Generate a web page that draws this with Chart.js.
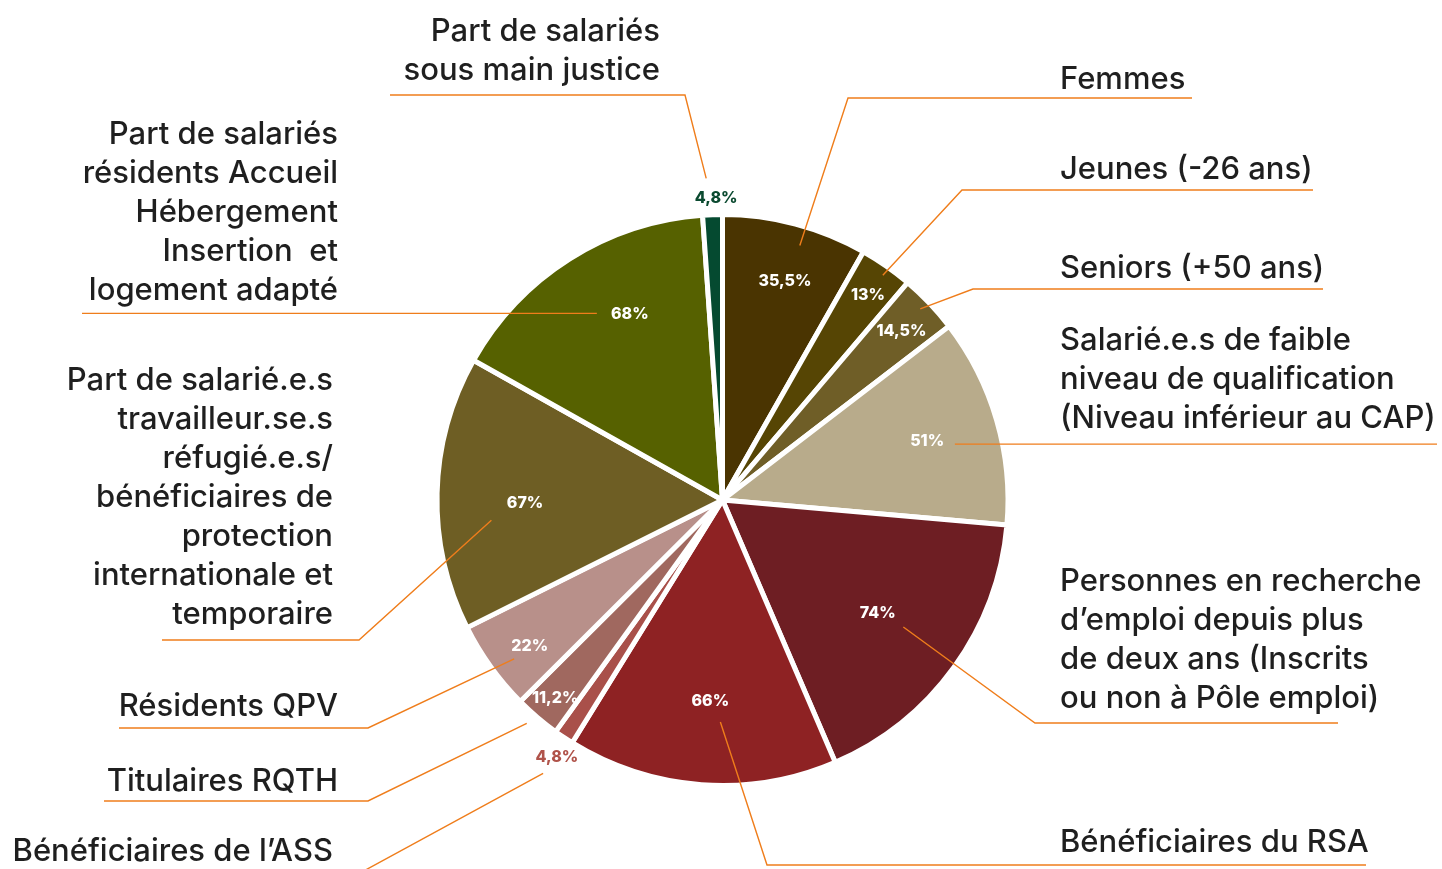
<!DOCTYPE html>
<html>
<head>
<meta charset="utf-8">
<script src="https://cdn.jsdelivr.net/npm/chart.js@4.4.1/dist/chart.umd.min.js"></script>
<style>
  html, body { margin: 0; padding: 0; background: #ffffff; }
  #wrap { width: 1442px; height: 869px; }
</style>
</head>
<body>
<div id="wrap"><canvas id="c" width="1442" height="869"></canvas></div>
<script>
// ---- DATA ----
const categories = [
  "Femmes",
  "Jeunes (-26 ans)",
  "Seniors (+50 ans)",
  "Salarié.e.s de faible niveau de qualification (Niveau inférieur au CAP)",
  "Personnes en recherche d’emploi depuis plus de deux ans (Inscrits ou non à Pôle emploi)",
  "Bénéficiaires du RSA",
  "Bénéficiaires de l’ASS",
  "Titulaires RQTH",
  "Résidents QPV",
  "Part de salarié.e.s travailleur.se.s réfugié.e.s/ bénéficiaires de protection internationale et temporaire",
  "Part de salariés résidents Accueil Hébergement Insertion et logement adapté",
  "Part de salariés sous main justice"
];
const values = [35.5, 13, 14.5, 51, 74, 66, 4.8, 11.2, 22, 67, 68, 4.8];
const valueLabels = ["35,5%", "13%", "14,5%", "51%", "74%", "66%", "4,8%", "11,2%", "22%", "67%", "68%", "4,8%"];
const labelLines = [
  ["Femmes"],
  ["Jeunes (-26 ans)"],
  ["Seniors (+50 ans)"],
  ["Salarié.e.s de faible", "niveau de qualification", "(Niveau inférieur au CAP)"],
  ["Personnes en recherche", "d’emploi depuis plus", "de deux ans (Inscrits", "ou non à Pôle emploi)"],
  ["Bénéficiaires du RSA"],
  ["Bénéficiaires de l’ASS"],
  ["Titulaires RQTH"],
  ["Résidents QPV"],
  ["Part de salarié.e.s", "travailleur.se.s", "réfugié.e.s/", "bénéficiaires de", "protection", "internationale et", "temporaire"],
  ["Part de salariés", "résidents Accueil", "Hébergement", "Insertion  et", "logement adapté"],
  ["Part de salariés", "sous main justice"]
];

// ---- STYLE / LAYOUT ----
const colors = ["#4a3401", "#564504", "#6f5e27", "#b8ab8b", "#6e1e23", "#8e2223",
                "#a9504a", "#a0685f", "#b8908a", "#6e5e24", "#566100", "#054a30"];
const valueColors = ["#fff","#fff","#fff","#fff","#fff","#fff","#b0534a","#fff","#fff","#fff","#fff","#0b4a30"];
// value label placement: [angle shift deg, radius px]
const valuePos = [[1.1,228],[0.4,251],[0.2,246],[0.1,213],[0.1,192],[-0.8,202],[-1,306],[-0.2,259],[-1.5,242],[-2.4,197.5],[5.9,208],[0.8,302]];
// leader line start: [angle shift deg, radius px]
const leadStart = [[2.1,266],[0.5,276],[-0.5,275],[2.7,239],[-0.8,221],[-3.7,222],[-0.5,327],[0.8,297],[-1.6,262],[-6.4,232],[-1.6,225],[-0.9,322]];
// leader elbow (null = horizontal from start), underline end x, text anchor
const leadElbow = [[848,98],[962,190],[973,289],null,[1035,723],[767,865],[360,873],[368,801],[368,728],[359,640],null,[685,95]];
const leadEndX = [1192,1313,1323,1437,1338,1366,10,104,119,162,82,390];
const textAnchor = [
  {x:1060, y:80, align:"left"},
  {x:1060, y:170, align:"left"},
  {x:1060, y:269, align:"left"},
  {x:1060, y:341, align:"left"},
  {x:1060, y:582, align:"left"},
  {x:1060, y:843, align:"left"},
  {x:333, y:852, align:"right"},
  {x:338, y:782, align:"right"},
  {x:338, y:707, align:"right"},
  {x:333, y:381, align:"right"},
  {x:338, y:135, align:"right"},
  {x:660, y:32, align:"right"}
];
const LINE_H = 39;

const calloutPlugin = {
  id: 'callouts',
  afterDatasetsDraw(chart) {
    const ctx = chart.ctx;
    const meta = chart.getDatasetMeta(0);
    ctx.save();
    meta.data.forEach((arc, i) => {
      const {x: cx, y: cy, startAngle, endAngle} = arc.getProps(['x','y','startAngle','endAngle'], true);
      const mid = (startAngle + endAngle) / 2;
      const pt = (shift, r) => {
        const a = mid + shift * Math.PI / 180;
        return [cx + r * Math.cos(a), cy + r * Math.sin(a)];
      };
      // leader line
      const s = pt(leadStart[i][0], leadStart[i][1]);
      ctx.strokeStyle = "#ef7d1b";
      ctx.lineWidth = 1.4;
      ctx.beginPath();
      ctx.moveTo(s[0], s[1]);
      let ey;
      if (leadElbow[i]) {
        ctx.lineTo(leadElbow[i][0], leadElbow[i][1]);
        ey = leadElbow[i][1];
      } else {
        ey = s[1];
      }
      ctx.lineTo(leadEndX[i], ey);
      ctx.stroke();
      // value label
      const v = pt(valuePos[i][0], valuePos[i][1]);
      ctx.fillStyle = valueColors[i];
      ctx.font = "800 16px Inter";
      ctx.textAlign = "center";
      ctx.textBaseline = "middle";
      ctx.fillText(valueLabels[i], v[0], v[1]);
      // category text
      const t = textAnchor[i];
      ctx.fillStyle = "#1f1f1f";
      ctx.font = "500 31px Inter";
      ctx.textAlign = t.align;
      ctx.textBaseline = "middle";
      labelLines[i].forEach((line, k) => {
        ctx.fillText(line, t.x, t.y + k * LINE_H);
      });
    });
    ctx.restore();
  }
};

new Chart(document.getElementById('c'), {
  type: 'pie',
  data: {
    labels: categories,
    datasets: [{
      data: values,
      backgroundColor: colors,
      borderColor: "#ffffff",
      borderWidth: 5,
      hoverOffset: 0
    }]
  },
  options: {
    responsive: false,
    animation: false,
    radius: 285.5,
    layout: { padding: { top: 200, bottom: 69, left: 400, right: 397 } },
    plugins: { legend: { display: false }, tooltip: { enabled: false } }
  },
  plugins: [calloutPlugin]
});
</script>
</body>
</html>
